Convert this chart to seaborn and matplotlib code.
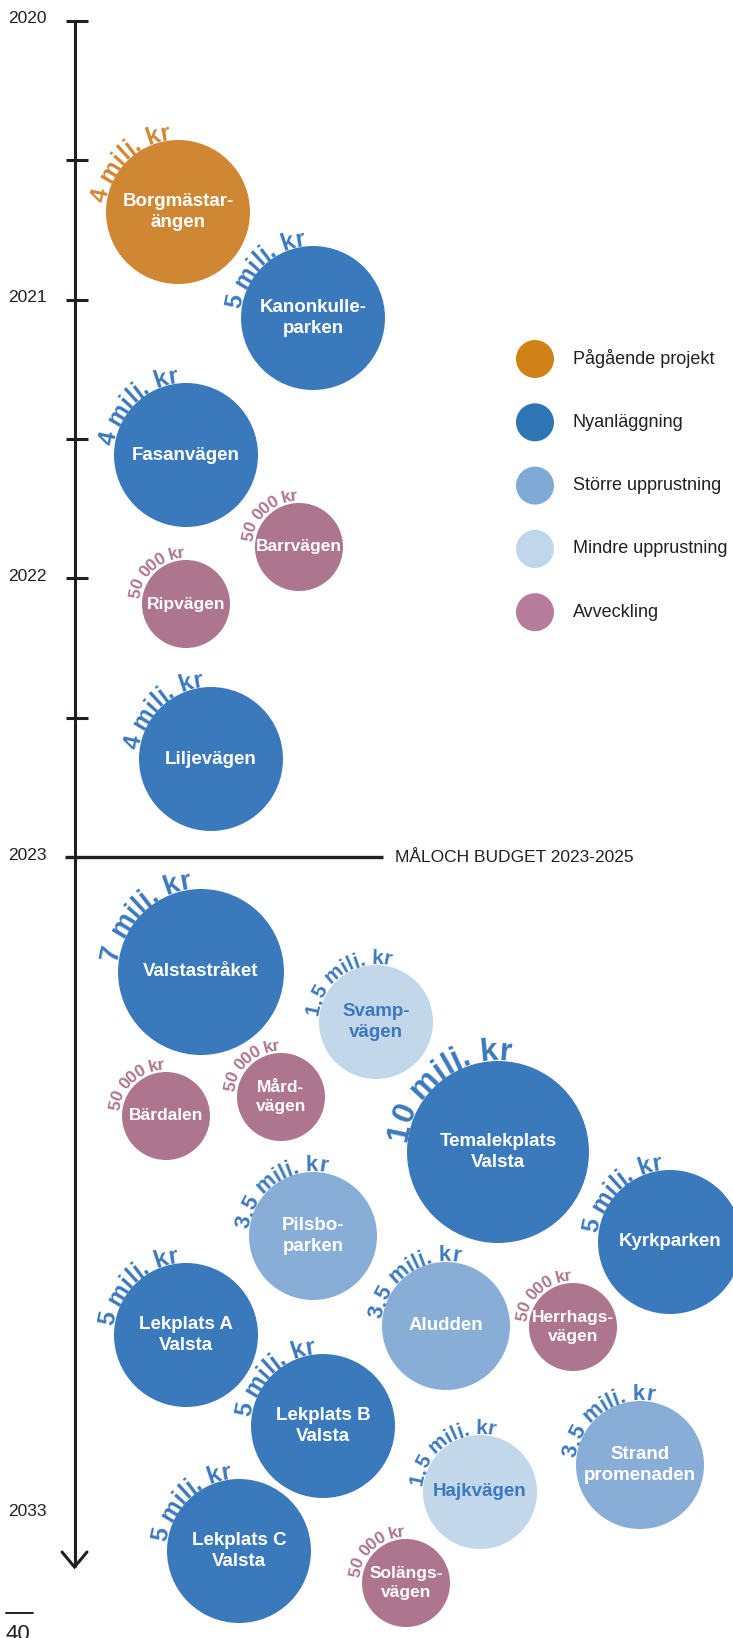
import numpy as np
import pandas as pd
import matplotlib
matplotlib.use("Agg")
import matplotlib.pyplot as plt
from matplotlib.font_manager import FontProperties
import seaborn as sns

# ---------------------------------------------------------------- data
projects = [
    "Borgmästar-\nängen", "Kanonkulle-\nparken", "Fasanvägen", "Barrvägen",
    "Ripvägen", "Liljevägen", "Valstastråket", "Svamp-\nvägen", "Bärdalen",
    "Mård-\nvägen", "Temalekplats\nValsta", "Pilsbo-\nparken", "Kyrkparken",
    "Lekplats A\nValsta", "Aludden", "Herrhags-\nvägen", "Lekplats B\nValsta",
    "Strand\npromenaden", "Hajkvägen", "Lekplats C\nValsta", "Solängs-\nvägen",
]
categories = [
    "Pågående projekt", "Nyanläggning", "Nyanläggning", "Avveckling",
    "Avveckling", "Nyanläggning", "Nyanläggning", "Mindre upprustning",
    "Avveckling", "Avveckling", "Nyanläggning", "Större upprustning",
    "Nyanläggning", "Nyanläggning", "Större upprustning", "Avveckling",
    "Nyanläggning", "Större upprustning", "Mindre upprustning",
    "Nyanläggning", "Avveckling",
]
budget_mkr = [4, 5, 4, 0.05, 0.05, 4, 7, 1.5, 0.05, 0.05, 10, 3.5, 5, 5,
              3.5, 0.05, 5, 3.5, 1.5, 5, 0.05]
budget_text = [
    "4 milj. kr", "5 milj. kr", "4 milj. kr", "50 000 kr", "50 000 kr",
    "4 milj. kr", "7 milj. kr", "1,5 milj. kr", "50 000 kr", "50 000 kr",
    "10 milj. kr", "3,5 milj. kr", "5 milj. kr", "5 milj. kr", "3,5 milj. kr",
    "50 000 kr", "5 milj. kr", "3,5 milj. kr", "1,5 milj. kr", "5 milj. kr",
    "50 000 kr",
]
# bubble centres on the canvas (pixel units, y grows downward)
pos_x = [178, 313, 186, 299, 186, 211, 201, 376, 166, 281, 498, 313, 670,
         186, 446, 573, 323, 640, 480, 239, 406]
pos_y = [212, 318, 455, 547, 604, 759, 972, 1022, 1116, 1097, 1152, 1236,
         1242, 1335, 1326, 1327, 1426, 1465, 1492, 1551, 1583]

category_order = ["Pågående projekt", "Nyanläggning", "Större upprustning",
                  "Mindre upprustning", "Avveckling"]
year_labels = ["2020", "2021", "2022", "2023", "2033"]
budget_note = "MÅLOCH BUDGET 2023-2025"
page_number = "40"

# ---------------------------------------------------------------- styling
W, H, DPI = 733, 1638, 100
FONT = ["Liberation Sans", "DejaVu Sans"]
INK = "#231F20"
ORANGE, BLUE, MID, LIGHT, MAUVE = "#CF8733", "#3B79BD", "#88ADD7", "#C3D7EB", "#AD758E"
bubble_colors = dict(zip(category_order, [ORANGE, BLUE, MID, LIGHT, MAUVE]))
legend_colors = ["#D08218", "#2E75B6", "#80AAD6", "#BFD6EB", "#B77B9B"]
ring_color = {"Pågående projekt": ORANGE, "Nyanläggning": BLUE,
              "Större upprustning": BLUE, "Mindre upprustning": BLUE,
              "Avveckling": MAUVE}
name_color = {c: ("#FFFFFF" if c != "Mindre upprustning" else BLUE)
              for c in category_order}
budget_radius = {10: 91, 7: 83, 5: 72, 4: 72, 3.5: 64, 1.5: 57, 0.05: 44}
ring_size = {10: 23, 7: 20, 5: 17.5, 4: 17.5, 3.5: 16, 1.5: 15, 0.05: 12.5}
ring_track = {10: 1.0, 7: 1.0, 5: 1.0, 4: 1.0, 3.5: 1.0, 1.5: 0.97, 0.05: 0.9}
ring_gap = {10: 1, 7: 1, 5: 1, 4: 1, 3.5: 1, 1.5: 1, 0.05: 3}

sns.set_theme(style="white")
plt.rcParams["font.family"] = FONT

fig = plt.figure(figsize=(W / DPI, H / DPI), dpi=DPI)
ax = fig.add_axes([0, 0, 1, 1])

# ---------------------------------------------------------------- bubbles
df = pd.DataFrame({"x": pos_x, "y": pos_y, "category": categories,
                   "budget": budget_mkr})
marker_area = {b: (2 * r * 72 / DPI) ** 2 for b, r in budget_radius.items()}
sns.scatterplot(data=df, x="x", y="y", hue="category", hue_order=category_order,
                palette=bubble_colors, size="budget", sizes=marker_area,
                linewidth=0, legend=False, ax=ax, zorder=3)

for name, cat, b, x, y in zip(projects, categories, budget_mkr, pos_x, pos_y):
    ax.text(x, y, name, ha="center", va="center", multialignment="center",
            fontsize=12.5 if b < 1 else 13.5, fontweight="bold",
            color=name_color[cat], linespacing=1.3, zorder=4)

# ---------------------------------------------------------------- budget text bent round each bubble
renderer = fig.canvas.get_renderer()


def advance(ch, fp):
    w_pair = renderer.get_text_width_height_descent("II", fp, ismath=False)[0]
    w_full = renderer.get_text_width_height_descent("I" + ch + "I", fp, ismath=False)[0]
    return w_full - w_pair


def ring_text(cx, cy, radius, s, size, color, track=1.0, start_deg=168.0):
    fp = FontProperties(family=FONT, weight="bold", size=size)
    adv = np.array([advance(c, fp) for c in s]) * track
    centres = np.cumsum(adv) - adv / 2.0
    centres -= centres[0]
    for c, d in zip(s, centres):
        if c == " ":
            continue
        phi = np.radians(start_deg) - d / radius
        ax.text(cx + radius * np.cos(phi), cy - radius * np.sin(phi), c,
                fontproperties=fp, color=color, rotation=np.degrees(phi) - 90,
                rotation_mode="anchor", ha="center", va="baseline", zorder=2)


for txt, cat, b, x, y in zip(budget_text, categories, budget_mkr, pos_x, pos_y):
    ring_text(x, y, budget_radius[b] + ring_gap[b], txt, ring_size[b],
              ring_color[cat], track=ring_track[b])

# ---------------------------------------------------------------- timeline
AX_X = 74.5
tick_y = [20.7 + 139.4 * k for k in range(7)]
ax.plot([AX_X, AX_X], [tick_y[0], 1567], color=INK, lw=2.2,
        solid_capstyle="butt", zorder=1)
ax.plot([62, AX_X, 87], [1552, 1567, 1552], color=INK, lw=2.2,
        solid_joinstyle="miter", zorder=1)
for ty in tick_y[:-1]:
    ax.plot([66, 88], [ty, ty], color=INK, lw=2.2, solid_capstyle="butt", zorder=1)
ax.plot([65, 383], [tick_y[-1], tick_y[-1]], color=INK, lw=2.4,
        solid_capstyle="butt", zorder=1)
ax.text(395, tick_y[-1], budget_note, ha="left", va="center", fontsize=12.5,
        color=INK)

label_y = [tick_y[0], tick_y[2], tick_y[4], tick_y[6], 1514]
for lab, ly in zip(year_labels, label_y):
    ax.text(47, ly + 2.5, lab, ha="right", va="baseline", fontsize=12.5, color=INK)

# ---------------------------------------------------------------- legend
leg_y = [359 + 63.3 * i for i in range(len(category_order))]
ax.scatter([535] * len(leg_y), leg_y, s=(2 * 19 * 72 / DPI) ** 2,
           c=legend_colors, linewidths=0, zorder=3)
for lab, ly in zip(category_order, leg_y):
    ax.text(573, ly, lab, ha="left", va="center", fontsize=13, color=INK)

# ---------------------------------------------------------------- page footer
ax.plot([6, 33], [1613, 1613], color=INK, lw=1.4)
ax.text(6, 1624, page_number, ha="left", va="top", fontsize=16, color=INK)

ax.set_xlim(0, W)
ax.set_ylim(H, 0)
ax.axis("off")
fig.savefig("out.png", dpi=DPI, facecolor="white")
